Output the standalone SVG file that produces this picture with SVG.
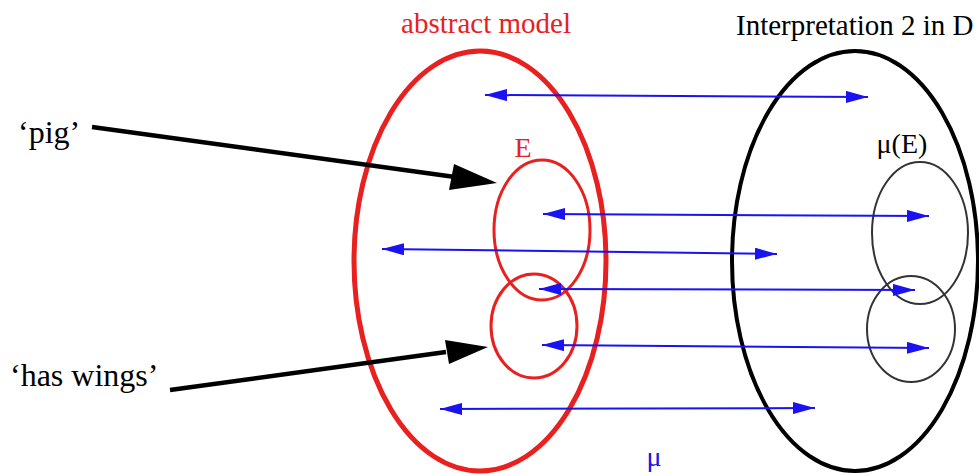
<svg xmlns="http://www.w3.org/2000/svg" width="979" height="476" viewBox="0 0 979 476">
<style>
text{font-family:'Liberation Serif','Times New Roman','DejaVu Serif',serif;font-size:29px}
text.big{font-size:32px}
text.sm{font-size:28px}
.red{fill:#e8201f}
.blk{fill:#000}
.blu{fill:#1a12f0}
.map{stroke:#1a12f0;stroke-width:2;fill:none;marker-start:url(#bs);marker-end:url(#be)}
.ptr{stroke:#000;stroke-width:4.5;fill:none}
</style>
<defs>
<marker id="be" markerWidth="22" markerHeight="12" refX="22" refY="6" orient="auto" markerUnits="userSpaceOnUse"><path d="M0,0 L22,6 L0,12 Z" fill="#1a12f0"/></marker>
<marker id="bs" markerWidth="22" markerHeight="12" refX="0" refY="6" orient="auto" markerUnits="userSpaceOnUse"><path d="M22,0 L0,6 L22,12 Z" fill="#1a12f0"/></marker>
</defs>
<rect width="979" height="476" fill="#fff"/>
<g id="abstract-model">
<ellipse cx="480" cy="261" rx="126" ry="210" fill="none" stroke="#e8201f" stroke-width="5"/>
<text class="red" x="486" y="33" text-anchor="middle">abstract model</text>
</g>
<g id="E">
<ellipse cx="542" cy="230" rx="48" ry="70" fill="none" stroke="#e8201f" stroke-width="3"/>
<text class="red sm" x="523" y="157" text-anchor="middle">E</text>
</g>
<g id="wings-set">
<ellipse cx="534" cy="326" rx="43" ry="52" fill="none" stroke="#e8201f" stroke-width="3"/>
</g>
<g id="interpretation">
<ellipse cx="855" cy="261" rx="123" ry="210" fill="none" stroke="#000" stroke-width="4"/>
<text class="blk" x="736" y="35">Interpretation 2 in D</text>
</g>
<g id="muE">
<ellipse cx="920" cy="233" rx="48" ry="71" fill="none" stroke="#333" stroke-width="2"/>
<text class="blk sm" x="902" y="153" text-anchor="middle">μ(E)</text>
</g>
<g id="mu-wings">
<ellipse cx="911" cy="329" rx="44" ry="53" fill="none" stroke="#333" stroke-width="2"/>
</g>
<g id="pig">
<text class="blk big" x="18" y="143">‘pig’</text>
</g>
<g id="has-wings">
<text class="blk big" x="10" y="386">‘has wings’</text>
</g>
<g id="mu-label">
<text class="blu sm" x="654" y="466" text-anchor="middle">μ</text>
</g>
<g id="connectors">
<line class="map" x1="485" y1="95" x2="868" y2="97"/>
<line class="map" x1="543" y1="214" x2="929" y2="216"/>
<line class="map" x1="382" y1="249" x2="777" y2="254"/>
<line class="map" x1="539" y1="289" x2="915" y2="290"/>
<line class="map" x1="542" y1="345" x2="929" y2="348"/>
<line class="map" x1="440" y1="409" x2="815" y2="408"/>
<line class="ptr" x1="92" y1="127" x2="455" y2="177"/>
<path d="M497,183 L449,190 L454,164 Z" fill="#000"/>
<line class="ptr" x1="170" y1="390" x2="446" y2="352"/>
<path d="M488,347 L449,364 L445,340 Z" fill="#000"/>
</g>
</svg>
